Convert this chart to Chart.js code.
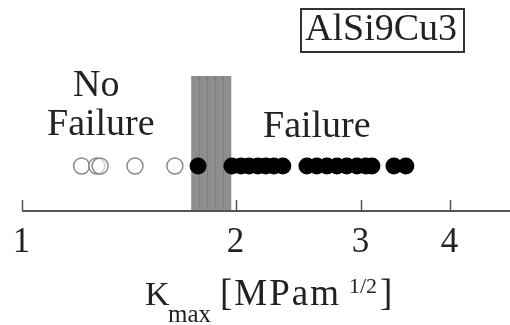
<!DOCTYPE html>
<html>
<head>
<meta charset="utf-8">
<script src="https://cdn.jsdelivr.net/npm/chart.js@4.4.0/dist/chart.umd.min.js"></script>
<style>
  body { margin: 0; background: #fff; }
  #wrap { position: relative; width: 510px; height: 325px; font-family: "Liberation Serif"; color: #222; }
  #wrap canvas { position: absolute; left: 0; top: 0; }
  .lbl { position: absolute; line-height: 1; white-space: nowrap; }
  .tick { transform: translateX(-50%); }
  #matBox { position: absolute; left: 300px; top: 8px; width: 165px; height: 45px;
            box-sizing: border-box; border: 2px solid #333; }
</style>
</head>
<body>
<div id="wrap">
  <canvas id="kmaxChart" width="510" height="325"></canvas>
  <div id="matBox"></div>
  <div class="lbl" id="material" style="left:305px; top:8px; font-size:38px;"></div>
  <div class="lbl" style="left:73px; top:64px; font-size:38px;">No</div>
  <div class="lbl" style="left:47px; top:103px; font-size:38px;">Failure</div>
  <div class="lbl" style="left:263px; top:105px; font-size:38px;">Failure</div>
  <div class="lbl" style="left:145px; top:277px; font-size:34px;">K</div>
  <div class="lbl" style="left:168px; top:301px; font-size:25px;">max</div>
  <div class="lbl" style="left:220px; top:274px; font-size:37px; letter-spacing:2px;">[MPam</div>
  <div class="lbl" style="left:349px; top:275px; font-size:22px;">1/2</div>
  <div class="lbl" style="left:380px; top:274px; font-size:37px;">]</div>
</div>
<script>
// K_max values (MPa m^1/2)
const noFailure = [1.213, 1.274, 1.288, 1.442, 1.641];
const failure = [1.769, 1.974, 2.033, 2.086, 2.147, 2.203, 2.262, 2.328,
  2.517, 2.599, 2.685, 2.774, 2.865, 2.960, 3.047, 3.107, 3.337, 3.468];
const thresholdBand = [1.73, 1.97];
const tickValues = [1, 2, 3, 4];
const tickLabels = ['1', '2', '3', '4'];
const materialLabel = 'AlSi9Cu3';

document.getElementById('material').textContent = materialLabel;

// gray band, axis line with upward ticks, tick labels as html
const decorations = {
  id: 'decorations',
  beforeDatasetsDraw(chart) {
    const { ctx, chartArea, scales } = chart;
    const x0 = scales.x.getPixelForValue(thresholdBand[0]);
    const x1 = scales.x.getPixelForValue(thresholdBand[1]);
    ctx.save();
    ctx.fillStyle = '#8e8e8e';
    ctx.fillRect(x0, chartArea.top, x1 - x0, chartArea.bottom - chartArea.top);
    // faint vertical streaks like the scanned original
    ctx.strokeStyle = 'rgba(90,90,90,0.3)';
    ctx.lineWidth = 1;
    for (let i = 1; i < 5; i++) {
      const xx = Math.round(x0 + (x1 - x0) * i / 5) + 0.5;
      ctx.beginPath();
      ctx.moveTo(xx, chartArea.top);
      ctx.lineTo(xx, chartArea.bottom);
      ctx.stroke();
    }
    ctx.restore();
  },
  afterDraw(chart) {
    const { ctx, chartArea, scales } = chart;
    const yAxis = chartArea.bottom;
    ctx.save();
    ctx.strokeStyle = '#555';
    ctx.lineWidth = 2;
    ctx.beginPath();
    ctx.moveTo(chartArea.left, yAxis);
    ctx.lineTo(chartArea.right, yAxis);
    ctx.stroke();

    ctx.lineWidth = 1.5;
    const wrap = document.getElementById('wrap');
    wrap.querySelectorAll('.tick').forEach(el => el.remove());
    tickValues.forEach((v, i) => {
      const x = Math.round(scales.x.getPixelForValue(v)) + 0.5;
      ctx.beginPath();
      ctx.moveTo(x, yAxis - 11);
      ctx.lineTo(x, yAxis);
      ctx.stroke();
      const el = document.createElement('div');
      el.className = 'lbl tick';
      el.style.left = (x - 1) + 'px';
      el.style.top = '223px';
      el.style.fontSize = '35px';
      el.textContent = tickLabels[i];
      wrap.appendChild(el);
    });
    ctx.restore();
  }
};

new Chart(document.getElementById('kmaxChart'), {
  type: 'scatter',
  data: {
    datasets: [{
      label: 'No Failure',
      data: noFailure.map(v => ({ x: v, y: 1 })),
      pointRadius: 8,
      pointBackgroundColor: 'rgba(255,255,255,0.6)',
      pointBorderColor: '#8a8a8a',
      pointBorderWidth: 1.5,
      pointHoverRadius: 8
    }, {
      label: 'Failure',
      data: failure.map(v => ({ x: v, y: 1 })),
      pointRadius: 8.5,
      pointBackgroundColor: '#000',
      pointBorderColor: '#000',
      pointBorderWidth: 0,
      pointHoverRadius: 8.5
    }]
  },
  options: {
    responsive: false,
    animation: false,
    events: [],
    layout: { autoPadding: false, padding: { left: 22, right: 0, top: 76, bottom: 114 } },
    plugins: {
      legend: { display: false },
      tooltip: { enabled: false }
    },
    scales: {
      x: { type: 'logarithmic', min: 1, max: 4.86, display: false },
      y: { type: 'linear', min: 0, max: 3, display: false }
    }
  },
  plugins: [decorations]
});
</script>
</body>
</html>
